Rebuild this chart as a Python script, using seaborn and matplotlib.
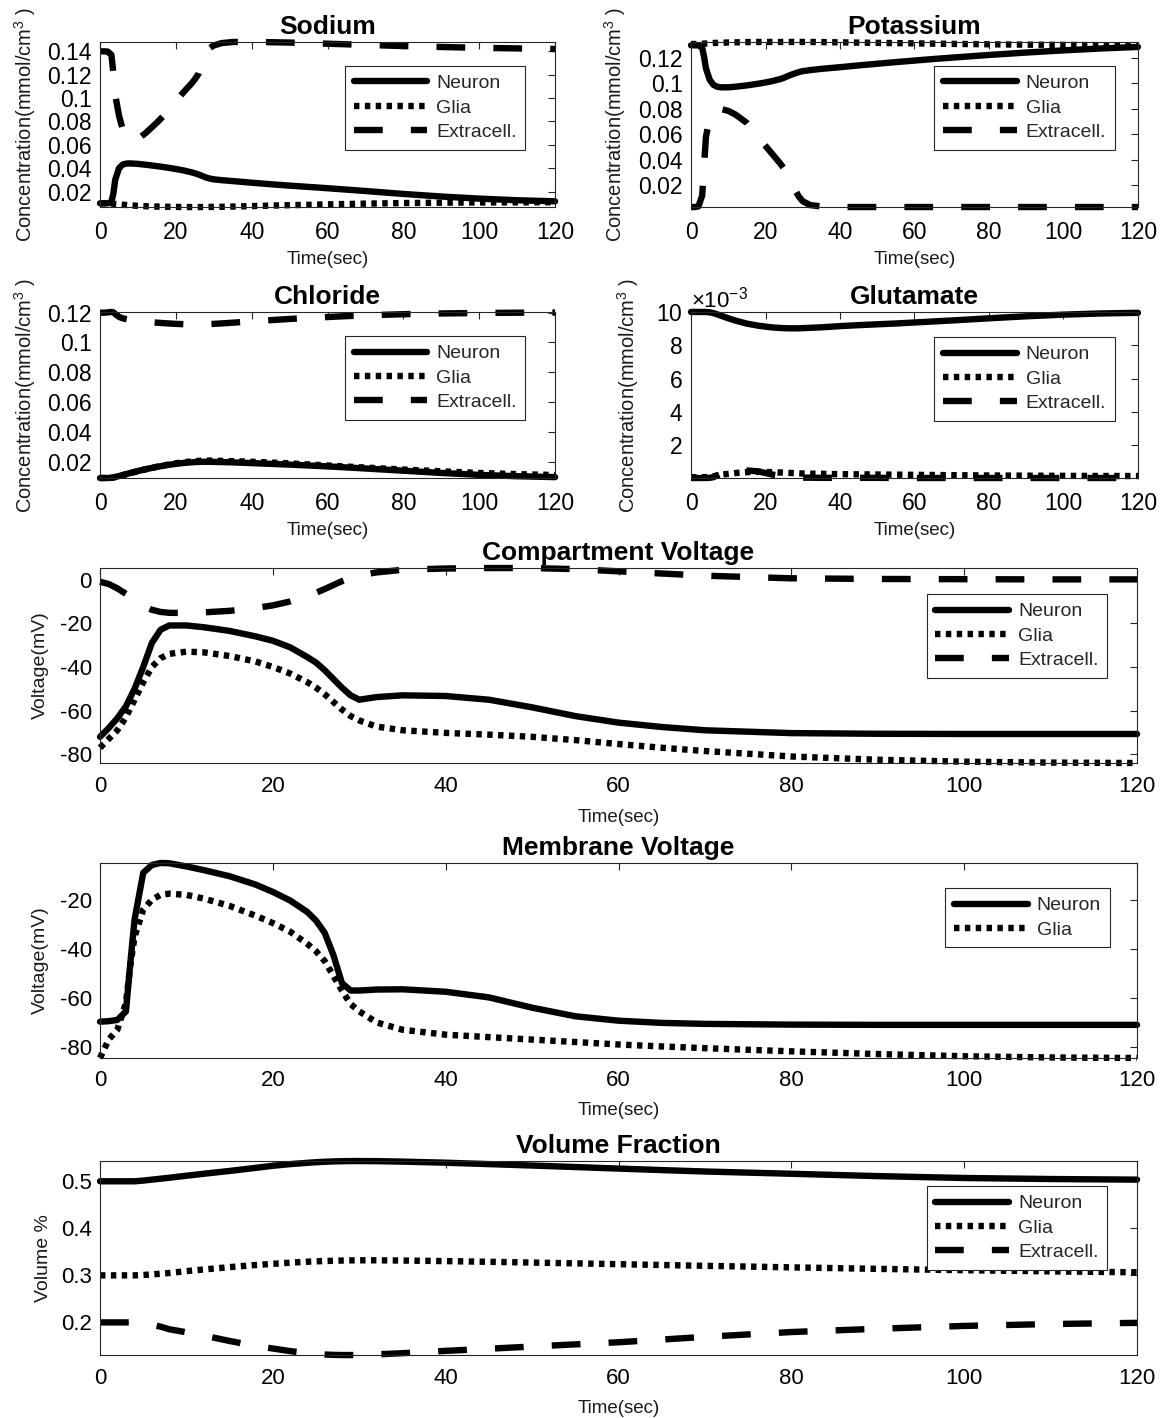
import numpy as np
import pandas as pd
import matplotlib
matplotlib.use("Agg")
import matplotlib.pyplot as plt
import seaborn as sns
from matplotlib.ticker import FuncFormatter, ScalarFormatter

# ---------------------------------------------------------------- data
time_s = [0, 1, 2, 3, 3.5, 4, 5, 6, 7, 8,
          10, 12, 15, 18, 20, 22, 24, 25, 26, 27,
          28, 29, 30, 32, 35, 40, 45, 50, 55, 60,
          65, 70, 80, 90, 100, 110, 120]

compartments = ["Neuron", "Glia", "Extracell."]

# Sodium concentration (mmol/cm^3)
na_neuron = [0.0100, 0.0100, 0.0100, 0.0110, 0.0180, 0.0300, 0.0400, 0.0432, 0.0440, 0.0441,
             0.0437, 0.0430, 0.0418, 0.0404, 0.0393, 0.0381, 0.0366, 0.0357, 0.0346, 0.0333,
             0.0320, 0.0311, 0.0305, 0.0298, 0.0290, 0.0276, 0.0263, 0.0251, 0.0240, 0.0229,
             0.0217, 0.0205, 0.0180, 0.0158, 0.0140, 0.0126, 0.0117]
na_glia = [0.0100, 0.0100, 0.0099, 0.0097, 0.0096, 0.0094, 0.0091, 0.0088, 0.0085, 0.0082,
           0.0078, 0.0075, 0.0072, 0.0070, 0.0069, 0.0068, 0.0068, 0.0068, 0.0068, 0.0068,
           0.0068, 0.0069, 0.0069, 0.0070, 0.0072, 0.0076, 0.0080, 0.0084, 0.0087, 0.0091,
           0.0094, 0.0097, 0.0102, 0.0105, 0.0107, 0.0108, 0.0109]
na_extra = [0.1400, 0.1400, 0.1398, 0.1370, 0.1220, 0.1030, 0.0850, 0.0730, 0.0670, 0.0640,
            0.0650, 0.0700, 0.0790, 0.0890, 0.0970, 0.1050, 0.1120, 0.1160, 0.1210, 0.1310,
            0.1390, 0.1430, 0.1450, 0.1470, 0.1480, 0.1480, 0.1478, 0.1475, 0.1470, 0.1465,
            0.1460, 0.1455, 0.1445, 0.1437, 0.1430, 0.1425, 0.1420]

# Potassium concentration (mmol/cm^3)
k_neuron = [0.1300, 0.1300, 0.1300, 0.1280, 0.1210, 0.1120, 0.1030, 0.0990, 0.0975, 0.0970,
            0.0970, 0.0975, 0.0985, 0.0998, 0.1008, 0.1020, 0.1035, 0.1045, 0.1058, 0.1070,
            0.1080, 0.1090, 0.1097, 0.1105, 0.1115, 0.1128, 0.1142, 0.1155, 0.1168, 0.1180,
            0.1192, 0.1203, 0.1224, 0.1243, 0.1260, 0.1275, 0.1287]
k_glia = [0.1310, 0.1310, 0.1311, 0.1312, 0.1313, 0.1314, 0.1316, 0.1318, 0.1319, 0.1320,
          0.1322, 0.1323, 0.1325, 0.1326, 0.1326, 0.1326, 0.1326, 0.1326, 0.1326, 0.1326,
          0.1326, 0.1326, 0.1326, 0.1326, 0.1325, 0.1323, 0.1321, 0.1319, 0.1317, 0.1315,
          0.1313, 0.1311, 0.1308, 0.1305, 0.1303, 0.1301, 0.1300]
k_extra = [0.0030, 0.0030, 0.0035, 0.0120, 0.0350, 0.0580, 0.0720, 0.0770, 0.0795, 0.0800,
           0.0785, 0.0755, 0.0690, 0.0580, 0.0510, 0.0440, 0.0370, 0.0330, 0.0280, 0.0220,
           0.0160, 0.0110, 0.0075, 0.0045, 0.0035, 0.0030, 0.0030, 0.0030, 0.0030, 0.0030,
           0.0030, 0.0030, 0.0030, 0.0030, 0.0030, 0.0030, 0.0030]

# Chloride concentration (mmol/cm^3)
cl_neuron = [0.0090, 0.0090, 0.0090, 0.0092, 0.0094, 0.0097, 0.0103, 0.0110, 0.0117, 0.0124,
             0.0137, 0.0149, 0.0165, 0.0178, 0.0185, 0.0191, 0.0195, 0.0197, 0.0198, 0.0199,
             0.0199, 0.0199, 0.0198, 0.0197, 0.0195, 0.0190, 0.0185, 0.0180, 0.0174, 0.0168,
             0.0161, 0.0154, 0.0139, 0.0124, 0.0111, 0.0102, 0.0096]
cl_glia = [0.0090, 0.0090, 0.0090, 0.0091, 0.0093, 0.0096, 0.0102, 0.0109, 0.0116, 0.0123,
           0.0136, 0.0148, 0.0165, 0.0180, 0.0189, 0.0196, 0.0201, 0.0203, 0.0205, 0.0206,
           0.0207, 0.0207, 0.0206, 0.0205, 0.0203, 0.0199, 0.0194, 0.0188, 0.0181, 0.0174,
           0.0167, 0.0160, 0.0147, 0.0135, 0.0124, 0.0116, 0.0110]
cl_extra = [0.1200, 0.1200, 0.1202, 0.1205, 0.1203, 0.1192, 0.1172, 0.1162, 0.1157, 0.1153,
            0.1146, 0.1140, 0.1133, 0.1128, 0.1125, 0.1123, 0.1122, 0.1122, 0.1122, 0.1122,
            0.1123, 0.1124, 0.1125, 0.1128, 0.1133, 0.1142, 0.1150, 0.1158, 0.1165, 0.1171,
            0.1177, 0.1182, 0.1190, 0.1195, 0.1198, 0.1200, 0.1201]

# Glutamate concentration (x 1e-3 mmol/cm^3)
glu_neuron_milli = [10.00, 10.00, 10.00, 10.00, 10.00, 10.00, 9.98, 9.93, 9.86, 9.78,
                    9.62, 9.48, 9.30, 9.18, 9.12, 9.07, 9.04, 9.03, 9.02, 9.02,
                    9.02, 9.02, 9.03, 9.05, 9.08, 9.15, 9.21, 9.26, 9.31, 9.37,
                    9.43, 9.49, 9.62, 9.74, 9.84, 9.91, 9.95]
glu_glia_milli = [0.10, 0.10, 0.10, 0.10, 0.10, 0.10, 0.12, 0.15, 0.20, 0.25,
                  0.30, 0.35, 0.40, 0.42, 0.41, 0.40, 0.38, 0.37, 0.36, 0.35,
                  0.34, 0.33, 0.32, 0.31, 0.30, 0.28, 0.27, 0.26, 0.25, 0.24,
                  0.23, 0.22, 0.20, 0.19, 0.18, 0.17, 0.17]
glu_extra_milli = [0.05, 0.05, 0.05, 0.05, 0.05, 0.05, 0.06, 0.10, 0.20, 0.30,
                   0.35, 0.40, 0.50, 0.45, 0.35, 0.25, 0.18, 0.15, 0.12, 0.10,
                   0.09, 0.08, 0.07, 0.07, 0.06, 0.06, 0.06, 0.06, 0.05, 0.05,
                   0.05, 0.05, 0.05, 0.05, 0.05, 0.05, 0.05]

# Compartment voltage (mV)
cv_neuron = [-72.0, -68.0, -63.5, -58.0, -54.0, -50.0, -40.0, -29.0, -23.0, -21.0,
             -21.0, -21.8, -23.5, -26.0, -28.0, -31.0, -35.5, -38.0, -41.5, -45.5,
             -49.5, -53.0, -55.0, -53.8, -53.0, -53.3, -55.0, -58.5, -62.5, -65.5,
             -67.5, -69.0, -70.3, -70.6, -70.7, -70.7, -70.7]
cv_glia = [-77.0, -73.0, -69.0, -63.0, -59.0, -55.0, -47.0, -40.0, -36.0, -34.0,
           -33.0, -33.3, -35.0, -37.5, -40.0, -43.0, -47.0, -49.5, -52.5, -56.0,
           -59.5, -62.5, -64.5, -67.3, -69.0, -70.2, -71.0, -72.0, -73.5, -75.3,
           -77.0, -78.5, -81.0, -82.5, -83.4, -83.8, -84.0]
cv_extra = [-1.0, -2.0, -4.0, -6.5, -8.0, -9.5, -12.0, -13.8, -14.8, -15.2,
            -15.3, -15.0, -14.3, -13.0, -11.8, -10.0, -7.5, -6.0, -4.3, -2.5,
            -0.7, 0.8, 2.0, 3.3, 4.5, 5.1, 5.3, 5.3, 4.8, 3.8,
            2.8, 1.8, 0.6, 0.3, 0.2, 0.1, 0.1]

# Membrane voltage (mV)
mv_neuron = [-69.7, -69.5, -69.0, -65.5, -46.0, -28.0, -9.0, -5.8, -5.0, -5.1,
             -6.4, -7.9, -10.4, -13.8, -16.8, -20.3, -25.0, -28.5, -33.5, -42.5,
             -54.0, -57.0, -57.0, -56.6, -56.5, -57.5, -59.8, -64.0, -67.5, -69.3,
             -70.2, -70.6, -70.9, -71.0, -71.0, -71.0, -71.0]
mv_glia = [-84.5, -77.0, -73.0, -62.0, -47.0, -35.0, -24.0, -20.0, -18.0, -17.5,
           -18.0, -19.5, -22.5, -26.5, -29.5, -33.0, -38.0, -41.0, -45.0, -51.0,
           -57.0, -62.5, -65.5, -70.0, -73.0, -75.0, -76.0, -77.0, -78.0, -79.0,
           -79.8, -80.5, -81.8, -82.9, -83.8, -84.3, -84.5]

# Volume fraction
vf_neuron = [0.5000, 0.5000, 0.5000, 0.5000, 0.5000, 0.5000, 0.5015, 0.5035, 0.5055, 0.5075,
             0.5118, 0.5160, 0.5220, 0.5285, 0.5330, 0.5365, 0.5393, 0.5405, 0.5415, 0.5422,
             0.5427, 0.5430, 0.5430, 0.5428, 0.5418, 0.5395, 0.5365, 0.5335, 0.5303, 0.5270,
             0.5238, 0.5208, 0.5160, 0.5110, 0.5070, 0.5048, 0.5035]
vf_glia = [0.3000, 0.3000, 0.3000, 0.3000, 0.3000, 0.3000, 0.3008, 0.3020, 0.3035, 0.3050,
           0.3090, 0.3125, 0.3175, 0.3220, 0.3245, 0.3270, 0.3290, 0.3298, 0.3305, 0.3310,
           0.3315, 0.3318, 0.3320, 0.3320, 0.3315, 0.3303, 0.3288, 0.3272, 0.3255, 0.3238,
           0.3220, 0.3203, 0.3170, 0.3138, 0.3110, 0.3085, 0.3065]
vf_extra = [0.2000, 0.2000, 0.2000, 0.2000, 0.2000, 0.2000, 0.1980, 0.1950, 0.1910, 0.1855,
            0.1790, 0.1720, 0.1605, 0.1500, 0.1445, 0.1390, 0.1345, 0.1328, 0.1317, 0.1310,
            0.1306, 0.1306, 0.1308, 0.1320, 0.1345, 0.1395, 0.1440, 0.1487, 0.1533, 0.1578,
            0.1635, 0.1693, 0.1795, 0.1865, 0.1925, 0.1965, 0.1990]

x_ticks = [0, 20, 40, 60, 80, 100, 120]
na_ticks = [0.02, 0.04, 0.06, 0.08, 0.10, 0.12, 0.14]
k_ticks = [0.02, 0.04, 0.06, 0.08, 0.10, 0.12]
cl_ticks = [0.02, 0.04, 0.06, 0.08, 0.10, 0.12]
glu_ticks = [0.002, 0.004, 0.006, 0.008, 0.010]
cv_ticks = [-80, -60, -40, -20, 0]
mv_ticks = [-80, -60, -40, -20]
vf_ticks = [0.2, 0.3, 0.4, 0.5]

# ---------------------------------------------------------------- style
sns.set_theme(style="white")
plt.rcParams["font.family"] = ["Liberation Sans", "DejaVu Sans"]
plt.rcParams["mathtext.fontset"] = "custom"
plt.rcParams["mathtext.rm"] = "Liberation Sans"
plt.rcParams["mathtext.it"] = "Liberation Sans:italic"
plt.rcParams["mathtext.bf"] = "Liberation Sans:bold"

AX_COLOR = "#262626"
LW = 4.6
dash_map = {"Neuron": "", "Glia": (0.85, 0.85), "Extracell.": (4.5, 4.4)}

fig = plt.figure(figsize=(11.74, 14.18), dpi=100)


def g_fmt(v, pos):
    return f"{v:g}"


def draw_panel(rect, title, series, names, yticks, ylabel, ylabel_x, xlabel_y,
               leg_anchor, small):
    ax = fig.add_axes(rect)
    n = len(time_s)
    df = pd.DataFrame({
        "Time(sec)": np.tile(np.asarray(time_s, dtype=float), len(names)),
        "Value": np.concatenate([np.asarray(s, dtype=float) for s in series]),
        "Compartment": np.repeat(names, n),
    })
    sns.lineplot(data=df, x="Time(sec)", y="Value", style="Compartment",
                 style_order=names, dashes=dash_map, color="black",
                 linewidth=LW, estimator=None, sort=False, legend=False,
                 ax=ax, clip_on=False, solid_joinstyle="round")
    ax.set_xlim(0, 120)
    ax.set_ylim(df["Value"].min(), df["Value"].max())
    ax.set_xticks(x_ticks)
    ax.set_yticks(yticks)
    ax.xaxis.set_major_formatter(FuncFormatter(g_fmt))
    ax.yaxis.set_major_formatter(FuncFormatter(g_fmt))
    tick_fs = 16.5 if small else 16
    ax.tick_params(axis="both", direction="in", length=5, width=0.8,
                   top=True, right=True, colors=AX_COLOR, labelsize=tick_fs,
                   labelcolor="black")
    ax.tick_params(axis="x", pad=10 if small else 9)
    ax.tick_params(axis="y", pad=6)
    for sp in ax.spines.values():
        sp.set_color(AX_COLOR)
        sp.set_linewidth(0.8)
        sp.set_visible(True)
    ax.set_title(title, fontsize=19, fontweight="bold", pad=6, color="black")
    ax.set_xlabel("Time(sec)", fontsize=13.5, color="#1a1a1a")
    ax.xaxis.set_label_coords(0.5, xlabel_y)
    ax.set_ylabel(ylabel, fontsize=14.5 if small else 14, color="#1a1a1a")
    ax.yaxis.set_label_coords(ylabel_x, 0.5)
    handles = ax.get_lines()[:len(names)]
    leg = ax.legend(handles, names, loc="upper left", bbox_to_anchor=leg_anchor,
                    bbox_transform=ax.transAxes, frameon=True, fancybox=False,
                    framealpha=1, edgecolor=AX_COLOR, fontsize=14,
                    handlelength=3.8, handletextpad=0.45, borderpad=0.45,
                    labelspacing=0.35, borderaxespad=0)
    leg.get_frame().set_linewidth(0.8)
    return ax


conc_label = r"Concentration(mmol/cm$^{3}$ )"

draw_panel([0.0852, 0.854, 0.3876, 0.1164], "Sodium",
           [na_neuron, na_glia, na_extra], compartments, na_ticks,
           conc_label, -0.136, -0.265, (0.538, 0.855), True)
draw_panel([0.5886, 0.854, 0.3807, 0.1164], "Potassium",
           [k_neuron, k_glia, k_extra], compartments, k_ticks,
           conc_label, -0.141, -0.265, (0.544, 0.855), True)
draw_panel([0.0852, 0.6629, 0.3876, 0.1171], "Chloride",
           [cl_neuron, cl_glia, cl_extra], compartments, cl_ticks,
           conc_label, -0.136, -0.265, (0.538, 0.855), True)

glu_series = [np.asarray(s) * 1e-3 for s in (glu_neuron_milli, glu_glia_milli, glu_extra_milli)]
ax_glu = draw_panel([0.5886, 0.6629, 0.3807, 0.1171], "Glutamate",
                    glu_series, compartments, glu_ticks,
                    conc_label, -0.112, -0.265, (0.544, 0.849), True)
sci = ScalarFormatter(useMathText=True)
sci.set_powerlimits((-3, -3))
ax_glu.yaxis.set_major_formatter(sci)
ax_glu.yaxis.get_offset_text().set_fontsize(16)

draw_panel([0.0852, 0.4619, 0.8833, 0.1375], "Compartment Voltage",
           [cv_neuron, cv_glia, cv_extra], compartments, cv_ticks,
           "Voltage(mV)", -0.049, -0.235, (0.797, 0.867), False)
draw_panel([0.0852, 0.2539, 0.8833, 0.1375], "Membrane Voltage",
           [mv_neuron, mv_glia], compartments[:2], mv_ticks,
           "Voltage(mV)", -0.049, -0.225, (0.815, 0.872), False)
draw_panel([0.0852, 0.0444, 0.8833, 0.1368], "Volume Fraction",
           [vf_neuron, vf_glia, vf_extra], compartments, vf_ticks,
           "Volume %", -0.046, -0.23, (0.797, 0.871), False)

fig.savefig("out.png", dpi=100, facecolor="white")
